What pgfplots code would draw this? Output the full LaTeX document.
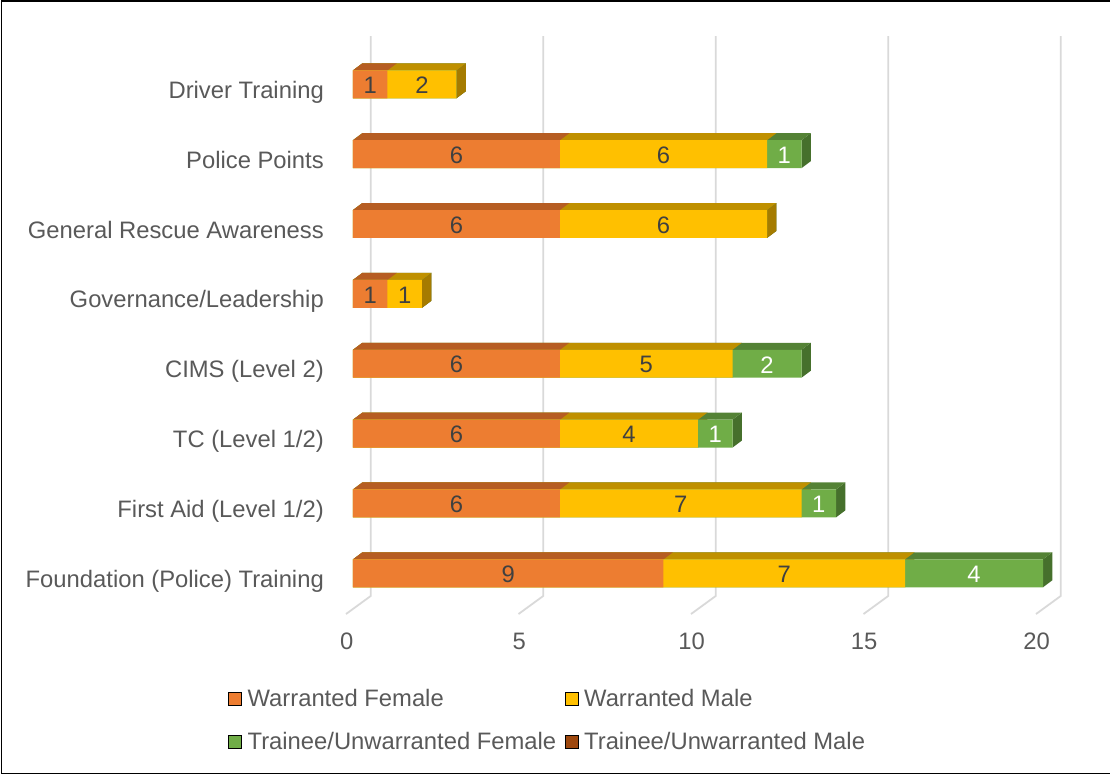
\documentclass[border=0pt]{standalone}
\usepackage{pgfplots}
\pgfplotsset{compat=1.18}
\usepackage{pgfplotstable}
\usepackage{fontspec}
\setmainfont{Liberation Sans}
\definecolor{wfc}{HTML}{ED7D31}
\definecolor{wft}{HTML}{B65D22}
\definecolor{wfs}{HTML}{A4521B}
\definecolor{wmc}{HTML}{FFC000}
\definecolor{wmt}{HTML}{BF9000}
\definecolor{wms}{HTML}{A57B00}
\definecolor{tfc}{HTML}{70AD47}
\definecolor{tft}{HTML}{548235}
\definecolor{tfs}{HTML}{46702C}
\definecolor{tmc}{HTML}{9E480E}
\definecolor{gridc}{HTML}{D9D9D9}
\definecolor{txt}{HTML}{595959}
\definecolor{lbl}{HTML}{404040}

% idx: 0 = Foundation (Police) Training ... 7 = Driver Training
\pgfplotstableread{
idx wf wm tf tm
0 9 7 4 0
1 6 7 1 0
2 6 4 1 0
3 6 5 2 0
4 1 1 0 0
5 6 6 0 0
6 6 6 1 0
7 1 2 0 0
}\data

\newcommand\bigfont{\fontsize{23.8}{28}\selectfont}

\begin{document}
\begin{tikzpicture}
\begin{axis}[
  scale only axis, width=753.5pt, height=586.8pt,
  xmin=-0.841, xmax=21, ymin=-0.65, ymax=7.75,
  clip=false,
  axis line style={draw=none}, major tick length=0pt,
  xtick={0,5,...,20},
  ytick={0,...,7},
  yticklabels={Foundation (Police) Training, First Aid (Level 1/2), TC (Level 1/2), CIMS (Level 2), Governance/Leadership, General Rescue Awareness, Police Points, Driver Training},
  /pgf/number format/assume math mode=true,
  tick label style={font=\bigfont, text=txt},
  xticklabel style={anchor=center, xshift=-6.3pt, yshift=-23pt},
  yticklabel style={anchor=base east, inner sep=0pt, yshift=-14pt},
  legend columns=2, legend cell align=left,
  legend style={draw=none, fill=none, font=\bigfont, text=txt,
    at={(axis cs:-3.623,-1.66)}, anchor=north west, inner sep=0pt,
    nodes={inner sep=0pt}, row sep=24pt,
    /tikz/every odd column/.append style={column sep=6pt},
    /tikz/every even column/.append style={column sep=8.5pt}},
  legend image code/.code={\fill[#1] (0pt,-6.5pt) rectangle (13pt,6.5pt);},
]
% 3D grid lines (back wall + floor)
\addplot[gridc, line width=1.8pt, forget plot] coordinates {(-0.203,-0.583) (0.513,-0.325) (0.513,7.691)};
\addplot[gridc, line width=1.8pt, forget plot] coordinates {(4.797,-0.583) (5.513,-0.325) (5.513,7.691)};
\addplot[gridc, line width=1.8pt, forget plot] coordinates {(9.797,-0.583) (10.513,-0.325) (10.513,7.691)};
\addplot[gridc, line width=1.8pt, forget plot] coordinates {(14.797,-0.583) (15.513,-0.325) (15.513,7.691)};
\addplot[gridc, line width=1.8pt, forget plot] coordinates {(19.797,-0.583) (20.513,-0.325) (20.513,7.691)};

% side and top faces of the 3D bars
\pgfplotsinvokeforeach{0,...,7}{%
  \pgfplotstablegetelem{#1}{wf}\of\data \let\vA\pgfplotsretval
  \pgfplotstablegetelem{#1}{wm}\of\data \let\vB\pgfplotsretval
  \pgfplotstablegetelem{#1}{tf}\of\data \let\vC\pgfplotsretval
  \pgfmathsetmacro\cA{\vA}
  \pgfmathsetmacro\cB{\vA+\vB}
  \pgfmathsetmacro\cC{\vA+\vB+\vC}
  \pgfmathsetmacro\cAd{\cA+0.27}
  \pgfmathsetmacro\cBd{\cB+0.27}
  \pgfmathsetmacro\cCd{\cC+0.27}
  \pgfmathsetmacro\yb{#1-0.2}
  \pgfmathsetmacro\yt{#1+0.2}
  \pgfmathsetmacro\ybb{#1-0.1}
  \pgfmathsetmacro\ytt{#1+0.3}
  \edef\faces{%
    \noexpand\addplot[fill=tfs,draw=none,forget plot] coordinates {(\cC,\yb) (\cC,\yt) (\cCd,\ytt) (\cCd,\ybb)};
    \noexpand\addplot[fill=wms,draw=none,forget plot] coordinates {(\cB,\yb) (\cB,\yt) (\cBd,\ytt) (\cBd,\ybb)};
    \noexpand\addplot[fill=tft,draw=none,forget plot] coordinates {(0,\yt) (\cC,\yt) (\cCd,\ytt) (0.27,\ytt)};
    \noexpand\addplot[fill=wmt,draw=none,forget plot] coordinates {(0,\yt) (\cB,\yt) (\cBd,\ytt) (0.27,\ytt)};
    \noexpand\addplot[fill=wft,draw=none,forget plot] coordinates {(0,\yt) (\cA,\yt) (\cAd,\ytt) (0.27,\ytt)};
  }\faces
}

% front faces (overlaid cumulative bars)
\addplot[xbar, bar width=0.4, bar shift=0pt, fill=tfc, draw=none, forget plot]
  table[x expr=\thisrow{wf}+\thisrow{wm}+\thisrow{tf}, y=idx]{\data};
\addplot[xbar, bar width=0.4, bar shift=0pt, fill=wmc, draw=none, forget plot]
  table[x expr=\thisrow{wf}+\thisrow{wm}, y=idx]{\data};
\addplot[xbar, bar width=0.4, bar shift=0pt, fill=wfc, draw=none, forget plot]
  table[x=wf, y=idx]{\data};

% value labels
\pgfplotsset{lblstyle/.style={draw=none, mark=none, forget plot, point meta=explicit,
  nodes near coords={\pgfmathfloatifflags{\pgfplotspointmeta}{0}{}{\pgfmathprintnumber{\pgfplotspointmeta}}},
  every node near coord/.append style={anchor=center, yshift=-1pt, font=\bigfont, text=#1}}}
\addplot[lblstyle=lbl] table[x expr=\thisrow{wf}/2, y=idx, meta=wf]{\data};
\addplot[lblstyle=lbl] table[x expr=\thisrow{wf}+\thisrow{wm}/2, y=idx, meta=wm]{\data};
\addplot[lblstyle=white] table[x expr=\thisrow{wf}+\thisrow{wm}+\thisrow{tf}/2, y=idx, meta=tf]{\data};

% legend
\addlegendimage{fill=wfc}\addlegendentry{Warranted Female}
\addlegendimage{fill=wmc}\addlegendentry{Warranted Male}
\addlegendimage{fill=tfc}\addlegendentry{Trainee/Unwarranted Female}
\addlegendimage{fill=tmc}\addlegendentry{Trainee/Unwarranted Male}

% chart frame
\draw[black, line width=1.3pt] (axis cs:21.942,8.192) -- (axis cs:-10.188,8.192) -- (axis cs:-10.188,-2.870) -- (axis cs:21.942,-2.870);
\coordinate (bbsw) at (axis cs:-10.232,-2.902);
\coordinate (bbne) at (axis cs:21.942,8.207);
\end{axis}
\pgfresetboundingbox
\path[use as bounding box] (bbsw) rectangle (bbne);
\end{tikzpicture}
\end{document}
